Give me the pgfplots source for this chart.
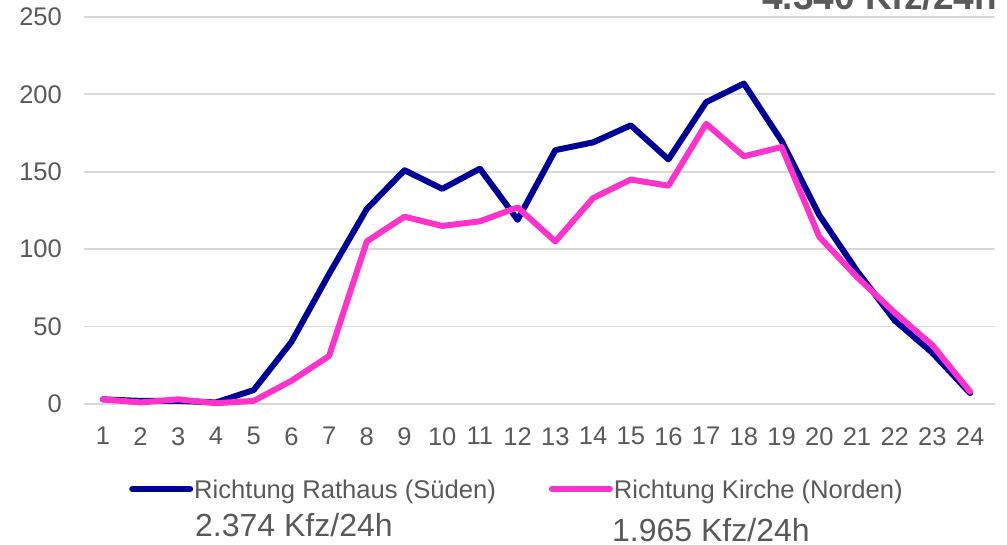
\documentclass[border=0pt]{standalone}
\usepackage{fontspec}
\setmainfont{Liberation Sans}
\usepackage{pgfplots}
\pgfplotsset{compat=1.18}
\definecolor{navyline}{RGB}{0,0,150}
\definecolor{pinkline}{RGB}{255,51,204}
\definecolor{gridgrey}{RGB}{217,217,217}
\definecolor{txtgrey}{RGB}{89,89,89}
\begin{document}
\begin{tikzpicture}
\begin{axis}[
  scale only axis,
  width=911pt, height=387pt,
  at={(0pt,0pt)}, anchor=south west,
  xmin=0.5, xmax=24.66, ymin=0, ymax=250,
  xtick={1,...,24}, ytick={0,50,...,250},
  ymajorgrids, major grid style={draw=gridgrey, line width=1.8pt},
  axis line style={draw=none}, major tick length=0pt,
  clip=false,
  /pgf/number format/assume math mode=true,
  tick label style={font=\fontsize{25.5}{30}\selectfont, text=txtgrey, inner sep=0pt},
  yticklabel style={anchor=east, xshift=-22pt},
  xticklabel style={anchor=north, yshift=-23pt},
  legend columns=2,
  legend style={draw=none, fill=none, inner sep=0pt,
    at={(0.0494,-0.222)}, anchor=west,
    font=\fontsize{25.6}{31}\selectfont, text=txtgrey,
    nodes={inner sep=0pt},
    /tikz/every odd column/.append style={column sep=1pt},
    /tikz/every even column/.append style={column sep=53pt}},
  legend image code/.code={\draw[#1] (0pt,1pt) -- (58pt,1pt);},
]
\addplot[navyline, line width=6pt, line join=round, line cap=round] coordinates {
(1,3) (2,2) (3,2) (4,1) (5,9) (6,40) (7,84) (8,126) (9,151) (10,139) (11,152) (12,119)
(13,164) (14,169) (15,180) (16,158) (17,195) (18,207) (19,170) (20,122) (21,86) (22,54) (23,33) (24,7)};
\addlegendentry{Richtung Rathaus (Süden)}
\addplot[pinkline, line width=6pt, line join=round, line cap=round] coordinates {
(1,3) (2,1) (3,3) (4,0.5) (5,2) (6,15) (7,31) (8,105) (9,121) (10,115) (11,118) (12,127)
(13,105) (14,133) (15,145) (16,141) (17,181) (18,160) (19,166) (20,108) (21,82) (22,59) (23,38) (24,8)};
\addlegendentry{Richtung Kirche (Norden)}
\end{axis}
\node[anchor=base west, inner sep=0pt, font=\fontsize{32}{38}\selectfont, text=txtgrey] at (111pt,-133pt) {2.374 Kfz/24h};
\node[anchor=base west, inner sep=0pt, font=\fontsize{32}{38}\selectfont, text=txtgrey] at (528pt,-138pt) {1.965 Kfz/24h};
\node[anchor=base east, inner sep=0pt, font=\fontsize{37}{44}\selectfont\bfseries, text=txtgrey] at (913pt,394.5pt) {4.340 Kfz/24h};
\pgfresetboundingbox
\useasboundingbox (-84pt,-141pt) rectangle (923pt,404pt);
\end{tikzpicture}
\end{document}
